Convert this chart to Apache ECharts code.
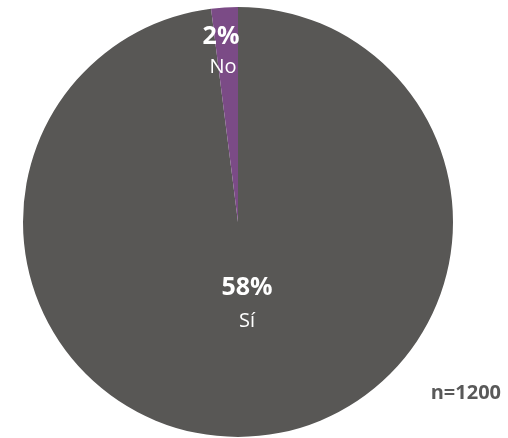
<!DOCTYPE html>
<html><head><meta charset="utf-8">
<script src="https://cdn.jsdelivr.net/npm/echarts@6/dist/echarts.min.js"></script>
<style>html,body{margin:0;padding:0;background:#fff}#c{width:508px;height:438px}</style>
</head><body><div id="c"></div>
<script>
var categories = ['Sí', 'No'];
var sliceValues = [98, 2];
var percentLabels = ['58%', '2%'];
var sampleNote = 'n=1200';
var colors = ['#585755', '#7b4b86'];

var chart = echarts.init(document.getElementById('c'));
var font = '"Open Sans", "Noto Sans", sans-serif';
function txt(x, y, s, f, fill, align) {
  return { type: 'text', x: x, y: y, z: 100, style: { text: s, fill: fill, font: f, align: align || 'center', verticalAlign: 'middle' } };
}
chart.setOption({
  animation: false,
  series: [{
    type: 'pie',
    center: [238, 222],
    radius: [0, 215],
    startAngle: 90,
    clockwise: true,
    label: { show: false },
    labelLine: { show: false },
    itemStyle: { borderWidth: 0 },
    data: categories.map(function (c, i) {
      return { name: c, value: sliceValues[i], itemStyle: { color: colors[i] } };
    })
  }],
  graphic: [
    txt(247, 288, percentLabels[0], 'bold 25px ' + font, '#fff'),
    txt(247, 321, categories[0], '20px ' + font, '#fff'),
    txt(221, 37, percentLabels[1], 'bold 25px ' + font, '#fff'),
    txt(223, 67, categories[1], '20px ' + font, '#fff'),
    txt(501, 393, sampleNote, 'bold 20px ' + font, '#595959', 'right')
  ]
});
</script></body></html>
